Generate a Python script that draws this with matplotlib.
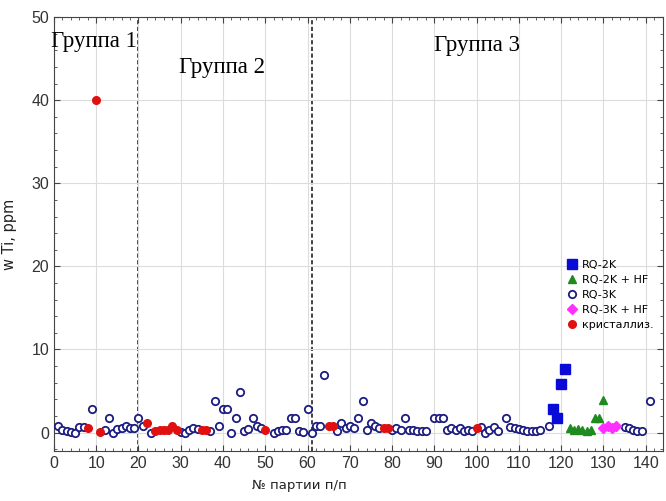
import matplotlib
matplotlib.use('Agg')
import matplotlib.pyplot as plt
from matplotlib.ticker import MultipleLocator

# RQ-3K (open circles)
rq3k_n = [1, 2, 3, 4, 5, 6, 7, 9, 12, 13, 14, 15, 16, 17, 18, 19, 20, 21, 23,
          30, 31, 32, 33, 34, 37, 38, 39, 40, 41, 42, 43, 44, 45, 46, 47, 48, 49,
          52, 53, 54, 55, 56, 57, 58, 59, 60, 61, 62, 63, 64, 67, 68, 69, 70, 71,
          72, 73, 74, 75, 76, 77, 80, 81, 82, 83, 84, 85, 86, 87, 88, 90, 91, 92,
          93, 94, 95, 96, 97, 98, 99, 101, 102, 103, 104, 105, 107, 108, 109, 110,
          111, 112, 113, 114, 115, 117, 135, 136, 137, 138, 139, 141]
rq3k_w = [0.8, 0.3, 0.15, 0.05, 0.0, 0.7, 0.7, 2.9, 0.3, 1.8, 0.0, 0.4, 0.6, 0.8, 0.6, 0.6, 1.8, 0.75, 0.0,
          0.05, 0.0, 0.35, 0.6, 0.4, 0.15, 3.8, 0.75, 2.8, 2.8, 0.0, 1.8, 4.9, 0.15, 0.45, 1.8, 0.75, 0.55,
          0.0, 0.15, 0.3, 0.3, 1.8, 1.8, 0.15, 0.05, 2.9, 0.0, 0.75, 0.75, 6.9, 0.15, 1.15, 0.55, 0.75, 0.55,
          1.8, 3.8, 0.35, 1.15, 0.85, 0.55, 0.35, 0.55, 0.35, 1.8, 0.35, 0.35, 0.2, 0.2, 0.2, 1.8, 1.8, 1.8,
          0.35, 0.55, 0.35, 0.55, 0.15, 0.35, 0.15, 0.65, 0.0, 0.35, 0.65, 0.15, 1.8, 0.65, 0.5, 0.4,
          0.35, 0.15, 0.15, 0.15, 0.3, 0.75, 0.65, 0.5, 0.35, 0.25, 0.2, 3.8]

# кристаллиз. (red dots)
cryst_n = [8, 10, 11, 22, 24, 25, 26, 27, 28, 29, 35, 36, 50, 65, 66, 78, 79, 100]
cryst_w = [0.55, 40, 0.05, 1.2, 0.25, 0.3, 0.3, 0.35, 0.75, 0.35, 0.3, 0.3, 0.3, 0.75, 0.75, 0.6, 0.6, 0.5]

# RQ-2K (squares)
rq2k_n = [118, 119, 120, 121]
rq2k_w = [2.8, 1.7, 5.8, 7.7]

# RQ-2K + HF (triangles)
rq2khf_n = [122, 123, 124, 125, 126, 127, 128, 129, 130]
rq2khf_w = [0.5, 0.3, 0.4, 0.3, 0.2, 0.3, 1.8, 1.8, 3.9]

# RQ-3K + HF (diamonds)
rq3khf_n = [130, 131, 132, 133]
rq3khf_w = [0.5, 0.8, 0.6, 0.8]

group_labels = ['Группа 1', 'Группа 2', 'Группа 3']
group_x = [-0.7, 29.5, 90]
group_y = [47, 43.9, 46.6]
borders = [20, 61]

fig = plt.figure(figsize=(6.66, 5.01), dpi=100)
ax = fig.add_axes([0.081, 0.1, 0.914, 0.866])

ax.grid(True, color='#dcdcdc', lw=0.8, zorder=0)
for b in borders:
    ax.axvline(b, color='#222222', ls=(0, (2.5, 1.5)), lw=1.2, zorder=1)

ax.plot(rq2k_n, rq2k_w, 's', color='#0a0ad8', ms=6.5, ls='none', label='RQ-2K', zorder=3)
ax.plot(rq2khf_n, rq2khf_w, '^', color='#1f8a1f', ms=5.5, ls='none', label='RQ-2K + HF', zorder=3)
ax.plot(rq3k_n, rq3k_w, 'o', mfc='white', mec='#1c1c82', mew=1.3, ms=5.3, ls='none', label='RQ-3K', zorder=3)
ax.plot(rq3khf_n, rq3khf_w, 'D', color='#ff30ff', ms=5, ls='none', label='RQ-3K + HF', zorder=3)
ax.plot(cryst_n, cryst_w, 'o', color='#e01010', ms=5.5, ls='none', label='кристаллиз.', zorder=3)

for lab, gx, gy in zip(group_labels, group_x, group_y):
    ax.text(gx, gy, lab, family='Liberation Serif', fontsize=16.5, va='center', ha='left', zorder=4)

ax.set_xlim(0, 144)
ax.set_ylim(-2.2, 50)
ax.set_xticks(range(0, 141, 10))
ax.set_yticks(range(0, 51, 10))
ax.xaxis.set_minor_locator(MultipleLocator(2))
ax.yaxis.set_minor_locator(MultipleLocator(2))
ax.tick_params(which='both', direction='in', top=True, right=True, colors='#444444',
               labelcolor='#333333', labelsize=11.5)
ax.tick_params(which='minor', length=2.5)
ax.tick_params(which='major', length=4)
for lbl in ax.get_xticklabels() + ax.get_yticklabels():
    lbl.set_family('Liberation Sans')
for s in ax.spines.values():
    s.set_color('#444444')

ax.set_xlabel('№ партии п/п', fontsize=9.5, color='#222222')
ax.set_ylabel('w Ti, ppm', fontsize=10.5, color='#222222')
ax.xaxis.set_label_coords(0.404, -0.065)
ax.yaxis.set_label_coords(-0.06, 0.5)

ax.legend(loc='upper left', bbox_to_anchor=(560 / 666, 1 - 252 / 501),
          bbox_transform=fig.transFigure, frameon=False, fontsize=8,
          handlelength=0.8, handletextpad=0.5, labelspacing=0.45, borderpad=0.2)

fig.savefig('out.png', dpi=100)
